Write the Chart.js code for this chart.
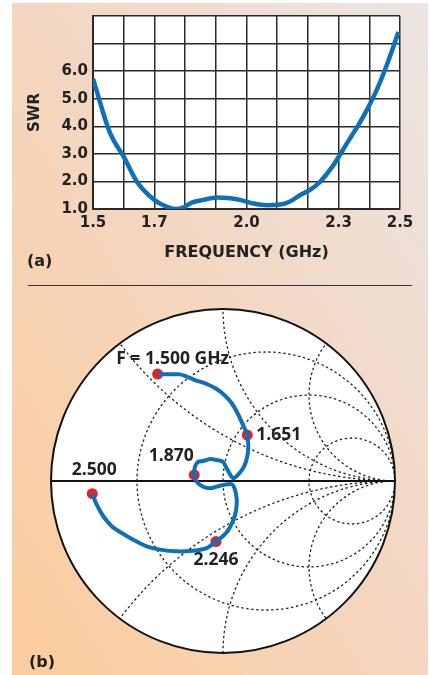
<!DOCTYPE html>
<html lang="en">

<head>
    <meta charset="UTF-8">
    <title>SWR and Smith chart</title>
    <script src="https://cdn.jsdelivr.net/npm/chart.js"></script>
    <style>
        * {
            margin: 0;
            padding: 0;
        }

        body {
            width: 430px;
            height: 675px;
            background-color: #fff;
            overflow: hidden;
            position: relative;
            font-family: "DejaVu Sans", sans-serif;
        }

        #panel {
            position: absolute;
            left: 12px;
            top: 3px;
            width: 416px;
            height: 672px;
            background: linear-gradient(to top right, #fccc9c 0%, #f4d6c0 50%, #ebe5e3 100%);
        }

        canvas {
            position: absolute;
            left: 0;
        }

        #swrChart {
            top: 0;
        }

        #smithChart {
            top: 290px;
        }

        .tag {
            position: absolute;
            font-weight: 700;
            font-size: 16px;
            color: #222;
        }

        #rule {
            position: absolute;
            left: 28px;
            top: 285px;
            width: 384px;
            border-top: 1.5px solid #333;
        }
    </style>
</head>

<body>
    <div id="panel"></div>
    <canvas id="swrChart" width="430" height="280"></canvas>
    <div class="tag" style="left:27px; top:251px;">(a)</div>
    <div id="rule"></div>
    <canvas id="smithChart" width="430" height="385"></canvas>
    <div class="tag" style="left:29px; top:652px;">(b)</div>

    <script>
        // (a) SWR vs frequency
        const freqGHz = [1.50, 1.556, 1.60, 1.643, 1.70, 1.741, 1.768, 1.795, 1.822, 1.86, 1.903, 1.947, 1.979,
            2.023, 2.066, 2.11, 2.14, 2.175, 2.207, 2.24, 2.283, 2.327, 2.38, 2.424, 2.457, 2.495];
        const swr = [5.73, 3.74, 2.9, 1.99, 1.33, 1.08, 1.0, 1.06, 1.23, 1.33, 1.42, 1.39, 1.33,
            1.2, 1.14, 1.16, 1.26, 1.51, 1.69, 1.99, 2.59, 3.38, 4.34, 5.31, 6.22, 7.42];
        const freqLabels = [1.5, 1.7, 2.0, 2.3, 2.5];
        const swrLabels = [1, 2, 3, 4, 5, 6];

        // (b) reflection coefficient trace (real / imaginary)
        const gammaRe = [-0.380, -0.308, -0.250, -0.208, -0.163, -0.095, -0.037, 0.012, 0.051, 0.083, 0.114,
            0.141, 0.147, 0.141, 0.122, 0.095, 0.060, 0.037, 0.017, -0.002, -0.037, -0.076, -0.115, -0.144, -0.163,
            -0.167, -0.153, -0.115, -0.076, -0.037, 0.002, 0.051, 0.070, 0.080, 0.076, 0.060, 0.031, -0.008,
            -0.041, -0.095, -0.173, -0.269, -0.366, -0.444, -0.522, -0.589, -0.647, -0.696, -0.734, -0.760];
        const gammaIm = [0.622, 0.620, 0.620, 0.606, 0.587, 0.564, 0.535, 0.496, 0.452, 0.397, 0.331,
            0.267, 0.199, 0.141, 0.083, 0.045, 0.016, 0.045, 0.083, 0.112, 0.122, 0.128, 0.116, 0.112, 0.083,
            0.035, -0.004, -0.033, -0.042, -0.033, -0.023, -0.019, -0.052, -0.110, -0.169, -0.227, -0.285, -0.327,
            -0.352, -0.390, -0.405, -0.409, -0.399, -0.380, -0.341, -0.302, -0.263, -0.205, -0.138, -0.074];
        const markerNames = ['F = 1.500 GHz', '1.651', '1.870', '2.246', '2.500'];
        const markerRe = [-0.380, 0.141, -0.167, -0.041, -0.760];
        const markerIm = [0.622, 0.267, 0.035, -0.352, -0.074];

        // smith grid values
        const resistanceCircles = [1 / 3, 1, 3];
        const reactanceArcs = [0.5, 1, 2, -0.5, -1, -2];

        const ink = '#222';
        const blue = '#0d70b8';
        const tickFont = { family: 'DejaVu Sans', weight: '700', size: 15 };
        const titleFont = { family: 'DejaVu Sans', weight: '700', size: 16 };

        const whiteArea = {
            id: 'whiteArea',
            beforeDraw(chart) {
                const a = chart.chartArea;
                chart.ctx.save();
                chart.ctx.fillStyle = '#fff';
                chart.ctx.fillRect(a.left, a.top, a.right - a.left, a.bottom - a.top);
                chart.ctx.restore();
            }
        };

        new Chart(document.getElementById('swrChart'), {
            type: 'line',
            data: {
                datasets: [{
                    data: freqGHz.map((f, i) => ({ x: f, y: swr[i] })),
                    borderColor: blue,
                    borderWidth: 4.5,
                    pointRadius: 0,
                    cubicInterpolationMode: 'monotone',
                    fill: false
                }]
            },
            options: {
                responsive: false,
                animation: false,
                layout: { padding: { top: 16, right: 30, left: 0, bottom: 0 } },
                plugins: { legend: { display: false }, tooltip: { enabled: false } },
                scales: {
                    x: {
                        type: 'linear',
                        min: 1.5,
                        max: 2.5,
                        afterFit: s => { s.height = 71; },
                        ticks: {
                            stepSize: 0.1,
                            autoSkip: false,
                            maxRotation: 0,
                            padding: 5,
                            color: ink,
                            font: tickFont,
                            callback: v => freqLabels.some(l => Math.abs(l - v) < 1e-6) ? v.toFixed(1) : ''
                        },
                        grid: { color: '#2a2a2a', lineWidth: 1.5, drawTicks: false },
                        border: { color: '#2a2a2a', width: 2 },
                        title: {
                            display: true,
                            text: 'FREQUENCY (GHz)',
                            color: ink,
                            font: titleFont,
                            padding: { top: 0, bottom: 18 }
                        }
                    },
                    y: {
                        min: 1,
                        max: 8,
                        afterFit: s => { s.width = 93; },
                        ticks: {
                            stepSize: 1,
                            padding: 5,
                            color: ink,
                            font: tickFont,
                            callback: v => swrLabels.includes(v) ? v.toFixed(1) : ''
                        },
                        grid: { color: '#2a2a2a', lineWidth: 1.5, drawTicks: false },
                        border: { color: '#2a2a2a', width: 2 },
                        title: {
                            display: true,
                            text: 'SWR',
                            color: ink,
                            font: tickFont,
                            padding: { top: 26, bottom: 0 }
                        }
                    }
                }
            },
            plugins: [whiteArea]
        });

        // smith chart background grid, drawn with the chart's own scales
        const smithGrid = {
            id: 'smithGrid',
            beforeDatasetsDraw(chart) {
                const { ctx, scales: { x, y } } = chart;
                const cx = x.getPixelForValue(0), cy = y.getPixelForValue(0);
                const R = x.getPixelForValue(1) - cx;
                const px = u => x.getPixelForValue(u);
                const py = v => y.getPixelForValue(v);

                ctx.save();
                ctx.beginPath();
                ctx.arc(cx, cy, R, 0, Math.PI * 2);
                ctx.fillStyle = '#fff';
                ctx.fill();
                ctx.clip();

                ctx.setLineDash([2.4, 2.6]);
                ctx.lineWidth = 1.3;
                ctx.strokeStyle = ink;
                resistanceCircles.forEach(r => {
                    ctx.beginPath();
                    ctx.arc(px(r / (r + 1)), cy, R / (r + 1), 0, Math.PI * 2);
                    ctx.stroke();
                });
                reactanceArcs.forEach(xv => {
                    ctx.beginPath();
                    ctx.arc(px(1), py(1 / xv), R / Math.abs(xv), 0, Math.PI * 2);
                    ctx.stroke();
                });
                ctx.restore();

                ctx.save();
                ctx.strokeStyle = '#111';
                ctx.lineWidth = 2;
                ctx.beginPath();
                ctx.moveTo(cx - R, cy);
                ctx.lineTo(cx + R, cy);
                ctx.stroke();
                ctx.beginPath();
                ctx.arc(cx, cy, R, 0, Math.PI * 2);
                ctx.stroke();
                ctx.restore();
            },
            afterDatasetsDraw(chart) {
                const meta = chart.getDatasetMeta(1);
                const offsets = [[15, -15, 'center'], [9, 0, 'left'], [-23, -19, 'center'], [0, 18, 'center'], [2, -24, 'center']];
                const ctx = chart.ctx;
                ctx.save();
                ctx.fillStyle = ink;
                ctx.font = '700 17.5px "Open Sans"';
                ctx.textBaseline = 'middle';
                meta.data.forEach((pt, i) => {
                    ctx.textAlign = offsets[i][2];
                    ctx.fillText(markerNames[i], pt.x + offsets[i][0], pt.y + offsets[i][1]);
                });
                ctx.restore();
            }
        };

        new Chart(document.getElementById('smithChart'), {
            type: 'scatter',
            data: {
                datasets: [{
                    data: gammaRe.map((u, i) => ({ x: u, y: gammaIm[i] })),
                    showLine: true,
                    borderColor: blue,
                    borderWidth: 4,
                    pointRadius: 0,
                    tension: 0.3
                }, {
                    data: markerRe.map((u, i) => ({ x: u, y: markerIm[i] })),
                    pointRadius: 5.5,
                    pointBackgroundColor: '#e8202a',
                    pointBorderWidth: 0,
                    pointBorderColor: '#e8202a'
                }]
            },
            options: {
                responsive: false,
                animation: false,
                layout: { padding: { top: 19, left: 51, right: 35, bottom: 22 } },
                plugins: { legend: { display: false }, tooltip: { enabled: false } },
                scales: {
                    x: { display: false, min: -1, max: 1 },
                    y: { display: false, min: -1, max: 1 }
                }
            },
            plugins: [smithGrid]
        });
    </script>
</body>

</html>
